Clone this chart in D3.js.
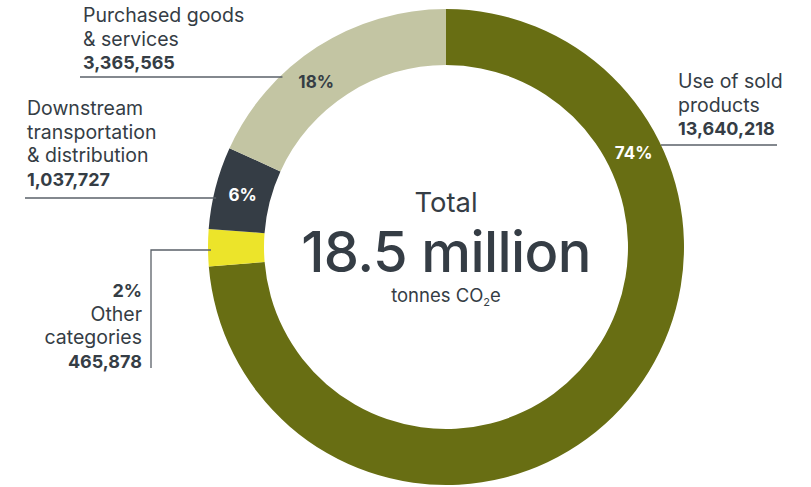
<!DOCTYPE html>
<html><head><meta charset="utf-8">
<script src="https://cdn.jsdelivr.net/npm/d3@7"></script>
<style>
html,body{margin:0;padding:0;background:#fff;}
svg{display:block;font-family:Inter,"Noto Sans",sans-serif;}
</style></head>
<body>
<svg id="chart" width="811" height="487"></svg>
<script>
// ---- data ----
const categories = ["Use of sold products", "Other categories", "Downstream transportation & distribution", "Purchased goods & services"];
const values = [13640218, 465878, 1037727, 3365565];
const percentLabels = ["74%", "2%", "6%", "18%"];
const valueLabels = ["13,640,218", "465,878", "1,037,727", "3,365,565"];
const colors = ["#686e13", "#ece42a", "#353d45", "#c3c5a3"];
const totalLabel = "18.5 million";

const cx = 446, cy = 247, R = 238, r = 182;
const ink = "#353d45";
const regSize = 19.5, boldSize = 18;

const svg = d3.select("#chart");
const g = svg.append("g").attr("transform", `translate(${cx},${cy})`);

const pie = d3.pie().value(d => d).sort(null);
const arcs = pie(values);
const arc = d3.arc().innerRadius(r).outerRadius(R);

g.selectAll("path.slice").data(arcs).enter().append("path")
  .attr("class", "slice")
  .attr("d", arc)
  .attr("fill", (d, i) => colors[i]);

// percent labels inside ring
const labelArc = d3.arc().innerRadius(210).outerRadius(210);
const pctAngleOverride = {0: 63.3, 3: 321.8};
const pctColor = ["#fff", null, "#fff", ink];
arcs.forEach((d, i) => {
  if (i === 1) return;
  let pos;
  if (pctAngleOverride[i] !== undefined) {
    const a = pctAngleOverride[i] * Math.PI / 180;
    pos = [210 * Math.sin(a), -210 * Math.cos(a)];
  } else pos = labelArc.centroid(d);
  g.append("text")
    .attr("x", pos[0]).attr("y", pos[1] + 6)
    .attr("text-anchor", "middle")
    .attr("font-size", 17).attr("font-weight", 700)
    .attr("fill", pctColor[i])
    .text(percentLabels[i]);
});

// centre text
g.append("text").attr("x", 0).attr("y", 212 - cy).attr("text-anchor", "middle")
  .attr("font-size", 27.4).attr("fill", ink).text("Total");
g.append("text").attr("x", 0).attr("y", 272 - cy).attr("text-anchor", "middle")
  .attr("font-size", 56).attr("font-weight", 500).attr("letter-spacing", -0.6).attr("fill", ink).text(totalLabel);
const t3 = g.append("text").attr("x", 0).attr("y", 302 - cy).attr("text-anchor", "middle")
  .attr("font-size", 18.5).attr("fill", ink);
t3.append("tspan").text("tonnes CO");
t3.append("tspan").attr("font-size", 11).attr("dy", 4).text("2");
t3.append("tspan").attr("dy", -4).text("e");

// outside labels
function lines(x, y0, rows, anchor) {
  const t = svg.append("text").attr("x", x).attr("y", y0).attr("text-anchor", anchor || "start")
    .attr("fill", ink);
  rows.forEach((row, k) => {
    t.append("tspan").attr("x", x).attr("dy", k === 0 ? 0 : 23.7)
      .attr("font-size", row.bold ? boldSize : regSize)
      .attr("font-weight", row.bold ? 700 : 400).text(row.t);
  });
}
const edgeX = (y, side) => cx + side * Math.sqrt(R * R - (y - cy) * (y - cy));
const lineColor = "#5a6068";

// Use of sold products (right)
lines(678, 88, [{t: "Use of sold"}, {t: "products"}, {t: valueLabels[0], bold: true}]);
svg.append("line").attr("x1", edgeX(145, 1)).attr("x2", 777).attr("y1", 145).attr("y2", 145)
  .attr("stroke", lineColor).attr("stroke-width", 1.3);

// Purchased goods
lines(83, 22, [{t: "Purchased goods"}, {t: "& services"}, {t: valueLabels[3], bold: true}]);
svg.append("line").attr("x1", 80).attr("x2", edgeX(77, -1) + 3).attr("y1", 77).attr("y2", 77)
  .attr("stroke", lineColor).attr("stroke-width", 1.3);

// Downstream
lines(27, 115, [{t: "Downstream"}, {t: "transportation"}, {t: "& distribution"}, {t: valueLabels[2], bold: true}]);
svg.append("line").attr("x1", 25).attr("x2", edgeX(198, -1) + 3).attr("y1", 198).attr("y2", 198)
  .attr("stroke", lineColor).attr("stroke-width", 1.3);

// Other categories
lines(142, 297, [{t: percentLabels[1], bold: true}, {t: "Other"}, {t: "categories"}, {t: valueLabels[1], bold: true}], "end");
svg.append("path")
  .attr("d", `M151,368 V250 H${edgeX(250, -1) + 3}`)
  .attr("fill", "none").attr("stroke", lineColor).attr("stroke-width", 1.3);
</script>
</body></html>
